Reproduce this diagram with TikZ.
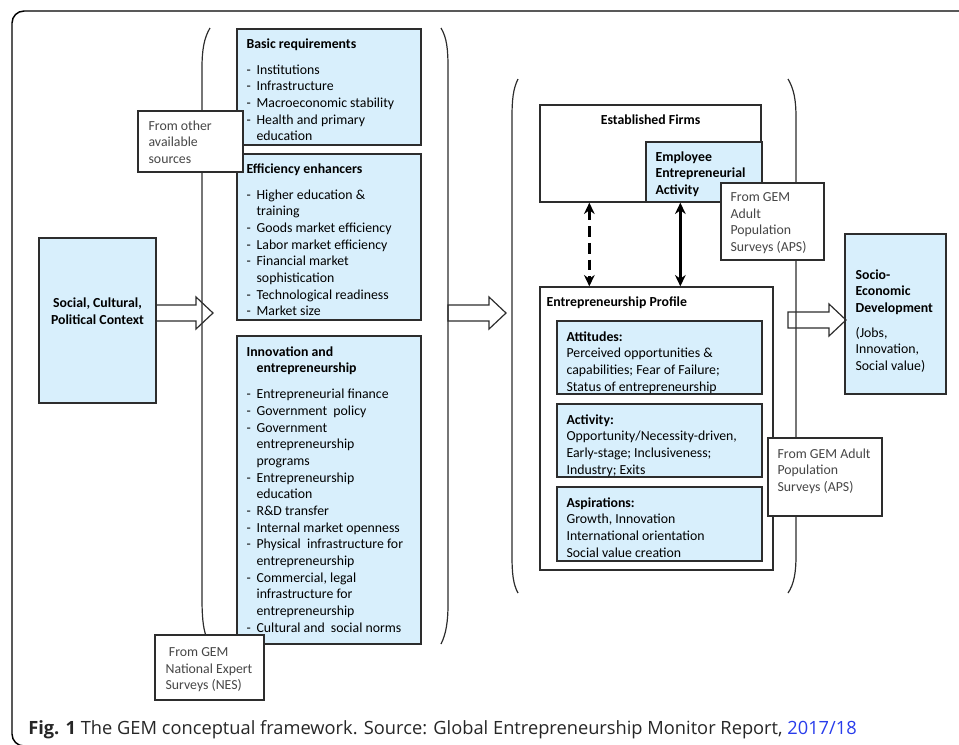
\documentclass[tikz,border=0pt]{standalone}
\usepackage{fontspec}
\setmainfont{Carlito}
\newfontfamily\capfont{Open Sans}
\usetikzlibrary{calc}
\usetikzlibrary{arrows, arrows.meta, positioning, fit}
\definecolor{paleblue}{RGB}{216,239,252}
\definecolor{boxline}{RGB}{45,45,45}
\definecolor{srcgray}{RGB}{70,70,70}
\definecolor{linkblue}{RGB}{40,60,235}
\tikzset{>=stealth}
\tikzset{
  bluebox/.style={draw=boxline, fill=paleblue, line width=1pt, inner sep=0pt},
  whitebox/.style={draw=boxline, fill=white, line width=1pt, inner sep=0pt},
  boxtxt/.style={anchor=north west, align=left, inner sep=0pt, font=\fontsize{10.35}{12.5}\selectfont},
  boldtxt/.style={boxtxt, font=\fontsize{10.35}{12.5}\selectfont\bfseries},
  srctxt/.style={boxtxt, text=srcgray},
  bracket/.style={draw=boxline, line width=0.9pt},
  fatarrow/.style={draw=boxline, line width=0.9pt},
  linkarrow/.style={{Stealth[length=8.5pt,width=8pt]}-{Stealth[length=8.5pt,width=8pt]}, line width=2.25pt, black}
}
\newcommand{\li}[1]{\makebox[7.5pt][l]{-}#1}
\newcommand{\lc}{\hspace*{7.5pt}}
\newcommand{\blockarrow}[2]{%
  \draw[fatarrow] ($(#1)+(0,-8)$) -- ($(#2)+(-17,-8)$) -- ($(#2)+(-17,-16)$) -- (#2)
    -- ($(#2)+(-17,16)$) -- ($(#2)+(-17,8)$) -- ($(#1)+(0,8)$) -- cycle;}

\begin{document}
\begin{tikzpicture}[x=0.75pt,y=-0.75pt]
    \useasboundingbox (0,0) rectangle (959,744);
    \clip (0,0) rectangle (959,744);
    \draw[line width=1.1pt, rounded corners=9pt] (12,11) rectangle (985,746);

    % brackets round the two blocks
    \draw[bracket] (210,28) .. controls (204,38) and (202,50) .. (202,68) -- (202,598) .. controls (202,616) and (203,627) .. (206,636);
    \draw[bracket] (441,28) .. controls (447,38) and (448,50) .. (448,68) -- (448,604) .. controls (448,622) and (446,634) .. (441,644);
    \draw[bracket] (518,79) .. controls (513,89) and (512,100) .. (512,118) -- (512,555) .. controls (512,573) and (513,584) .. (518,593);
    \draw[bracket] (788,79) .. controls (794,89) and (796,100) .. (796,118) -- (796,555) .. controls (796,573) and (794,584) .. (788,593);

    % left: context
    \node[bluebox, fit={(39,238) (156,403)}] (social) {};
    \node[boldtxt, anchor=center, align=center] (social-t) at ([shift={(0,-9)}]social.center) {Social, Cultural,\\Political Context};

    % pillars
    \node[bluebox, fit={(237,29) (421,145)}] (basic) {};
    \node[boxtxt] (basic-t) at ([shift={(10,10)}]basic.north west) {\textbf{Basic requirements}\\[7pt]
      \li{Institutions}\\ \li{Infrastructure}\\ \li{Macroeconomic stability}\\
      \li{Health and primary}\\ \lc education};
    \node[bluebox, fit={(237,154) (421,320)}] (effic) {};
    \node[boxtxt] (effic-t) at ([shift={(10,10)}]effic.north west) {\textbf{Efficiency enhancers}\\[7pt]
      \li{Higher education \&}\\ \lc training\\ \li{Goods market efficiency}\\
      \li{Labor market efficiency}\\ \li{Financial market}\\ \lc sophistication\\
      \li{Technological readiness}\\ \li{Market size}};
    \node[bluebox, fit={(237,336) (421,644)}] (innov) {};
    \node[boxtxt] (innov-t) at ([shift={(10,11)}]innov.north west) {\textbf{Innovation and}\\ \lc\textbf{entrepreneurship}\\[7pt]
      \li{Entrepreneurial finance}\\ \li{Government\ \ policy}\\ \li{Government}\\
      \lc entrepreneurship\\ \lc programs\\ \li{Entrepreneurship}\\ \lc education\\
      \li{R\&D transfer}\\ \li{Internal market openness}\\ \li{Physical\ \ infrastructure for}\\
      \lc entrepreneurship\\ \li{Commercial, legal}\\ \lc infrastructure for\\
      \lc entrepreneurship\\ \li{Cultural and\ \ social norms}};

    \node[whitebox, fit={(138,111) (243,172)}] (other) {};
    \node[srctxt] (other-t) at ([shift={(11,10)}]other.north west) {From other\\available\\sources};
    \node[whitebox, fit={(155,635) (264,700)}] (nes) {};
    \node[srctxt] (nes-t) at ([shift={(11,13)}]nes.north west) {\hspace*{2.5pt}From GEM\\National Expert\\Surveys (NES)};

    % right block
    \node[whitebox, fit={(540,105) (761,202)}] (ef) {};
    \node[boldtxt, anchor=center] (ef-t) at (650.5,120) {Established Firms};
    \node[bluebox, fit={(646,142) (762,202)}] (eea) {};
    \node[boldtxt] (eea-t) at ([shift={(10,10)}]eea.north west) {Employee\\Entrepreneurial\\Activity};
    \node[whitebox, fit={(721,183) (824,260)}] (aps1) {};
    \node[srctxt] (aps1-t) at ([shift={(10,10)}]aps1.north west) {From GEM\\Adult\\Population\\Surveys (APS)};

    \node[whitebox, fit={(540,287) (773,570)}] (ep) {};
    \node[boldtxt] (ep-t) at ([shift={(7,10)}]ep.north west) {Entrepreneurship Profile};
    \node[bluebox, fit={(557,321) (762,394)}] (att) {};
    \node[boxtxt] (att-t) at ([shift={(10,11)}]att.north west) {\textbf{Attitudes:}\\Perceived opportunities \&\\capabilities; Fear of Failure;\\Status of entrepreneurship};
    \node[bluebox, fit={(557,404) (762,477)}] (act) {};
    \node[boxtxt] (act-t) at ([shift={(10,11)}]act.north west) {\textbf{Activity:}\\Opportunity/Necessity-driven,\\Early-stage; Inclusiveness;\\Industry; Exits};
    \node[bluebox, fit={(557,487) (762,561)}] (asp) {};
    \node[boxtxt] (asp-t) at ([shift={(10,11)}]asp.north west) {\textbf{Aspirations:}\\Growth, Innovation\\International orientation\\Social value creation};
    \node[whitebox, fit={(768,438) (882,516)}] (aps2) {};
    \node[srctxt] (aps2-t) at ([shift={(10,11)}]aps2.north west) {From GEM Adult\\Population\\Surveys (APS)};

    \node[bluebox, fit={(845,234) (946,394)}] (socio) {};
    \node[boxtxt] (socio-t) at ([shift={(11,36)}]socio.north west) {\textbf{Socio-}\\\textbf{Economic}\\\textbf{Development}\\[6pt]
      (Jobs,\\Innovation,\\Social value)};

    % links
    \draw[linkarrow, dash pattern=on 8pt off 4.5pt] ([shift={(50,0)}]ef.south west) -- ([shift={(50,0)}]ep.north west);
    \draw[linkarrow] ([shift={(35,0)}]eea.south west) -- ([shift={(141,0)}]ep.north west);

    \coordinate (ctx-out) at (156,313);
    \coordinate (lbr-in) at (213,313);
    \coordinate (lbr-out) at (448,313);
    \coordinate (rbr-in) at (506,313);
    \coordinate (rbr-out) at (788,320);
    \coordinate (socio-in) at (846,320);
    \blockarrow{ctx-out}{lbr-in}
    \blockarrow{lbr-out}{rbr-in}
    \blockarrow{rbr-out}{socio-in}

    \node[anchor=base west, inner sep=0pt, font=\capfont\fontsize{13.7}{16}\selectfont, text=black!85] (caption) at (28,734)
      {\textbf{Fig. 1} The GEM conceptual framework. Source: Global Entrepreneurship Monitor Report, \textcolor{linkblue}{2017/18}};
\end{tikzpicture}
\end{document}
